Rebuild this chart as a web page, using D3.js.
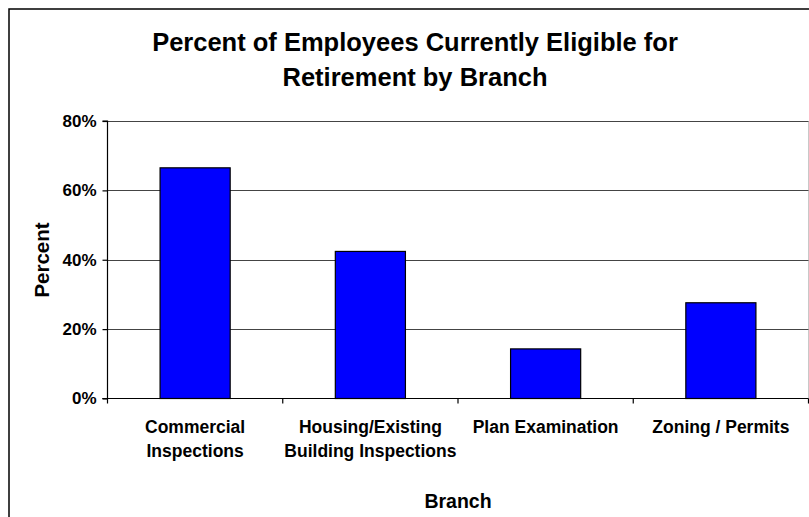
<!DOCTYPE html>
<html>
<head>
<meta charset="utf-8">
<script src="https://cdn.jsdelivr.net/npm/d3@7"></script>
<style>
  html, body { margin: 0; padding: 0; background: #fff; }
  svg { display: block; }
  text { font-family: "Liberation Sans", Arial, sans-serif; font-weight: bold; fill: #000; }
</style>
</head>
<body>
<svg id="chart" width="809" height="517"></svg>
<script>
// Branch categories (each label may wrap onto two lines)
const branches = [
  ["Commercial", "Inspections"],
  ["Housing/Existing", "Building Inspections"],
  ["Plan Examination"],
  ["Zoning / Permits"]
];
// Share of employees currently eligible for retirement, per branch
const eligible = [0.665, 0.424, 0.143, 0.276];
const yTicks = [0, 0.2, 0.4, 0.6, 0.8];
const titleLines = ["Percent of Employees Currently Eligible for", "Retirement by Branch"];

const svg = d3.select("#chart");
const W = 809, H = 517;

// outer chart frame
svg.append("rect")
  .attr("x", 9).attr("y", 9).attr("width", W + 20).attr("height", H + 20)
  .attr("fill", "#fff").attr("stroke", "#000").attr("stroke-width", 1.5);

const plot = { left: 107.5, right: 808.5, top: 121, bottom: 398.5 };

const x = d3.scaleBand()
  .domain(branches.map((d, i) => i))
  .range([plot.left, plot.right])
  .paddingInner(0.6).paddingOuter(0.3);

const xTickScale = d3.scaleLinear().domain([0, branches.length]).range([plot.left, plot.right]);

const y = d3.scaleLinear().domain([0, 0.8]).range([plot.bottom, plot.top]);

// plot area right edge
svg.append("line")
  .attr("x1", plot.right).attr("x2", plot.right)
  .attr("y1", plot.top).attr("y2", plot.bottom)
  .attr("stroke", "#c8c8c8").attr("stroke-width", 1);

// gridlines
svg.append("g")
  .selectAll("line")
  .data(yTicks.filter(v => v > 0))
  .join("line")
  .attr("x1", plot.left).attr("x2", plot.right)
  .attr("y1", d => Math.round(y(d)) + 0.5).attr("y2", d => Math.round(y(d)) + 0.5)
  .attr("stroke", "#444").attr("stroke-width", 1.2);

// bars
svg.append("g")
  .selectAll("rect")
  .data(eligible)
  .join("rect")
  .attr("x", (d, i) => x(i))
  .attr("y", d => y(d))
  .attr("width", x.bandwidth())
  .attr("height", d => y(0) - y(d))
  .attr("fill", "#0000ff")
  .attr("stroke", "#000").attr("stroke-width", 1.2);

// y axis
const yAxis = d3.axisLeft(y)
  .tickValues(yTicks)
  .tickFormat(d3.format(".0%"))
  .tickSize(5)
  .tickPadding(6);
const gy = svg.append("g")
  .attr("transform", `translate(${plot.left},0)`)
  .call(yAxis);
gy.select(".domain").attr("stroke", "#000").attr("stroke-width", 1.2).attr("d", `M-5,${plot.top}H0V${plot.bottom}H-5`);
gy.selectAll(".tick line").attr("stroke", "#000").attr("stroke-width", 1.2);
gy.selectAll(".tick text")
  .style("font-family", "'Liberation Sans', Arial, sans-serif")
  .style("font-weight", "bold")
  .style("font-size", "17px")
  .attr("fill", "#000");

// x axis line and category dividers
const gx = svg.append("g");
gx.append("line")
  .attr("x1", plot.left - 5).attr("x2", plot.right)
  .attr("y1", plot.bottom).attr("y2", plot.bottom)
  .attr("stroke", "#000").attr("stroke-width", 1.2);
gx.selectAll("line.tick")
  .data(d3.range(branches.length + 1))
  .join("line")
  .attr("class", "tick")
  .attr("x1", d => xTickScale(d)).attr("x2", d => xTickScale(d))
  .attr("y1", plot.bottom).attr("y2", plot.bottom + 5)
  .attr("stroke", "#000").attr("stroke-width", 1.2);

// category labels
gx.selectAll("text.cat")
  .data(branches)
  .join("text")
  .attr("class", "cat")
  .attr("text-anchor", "middle")
  .style("font-size", "17.5px")
  .each(function (lines, i) {
    const t = d3.select(this);
    lines.forEach((ln, j) => {
      t.append("tspan")
        .attr("x", x(i) + x.bandwidth() / 2)
        .attr("y", 433 + j * 24)
        .text(ln);
    });
  });

// axis titles
svg.append("text")
  .attr("text-anchor", "middle")
  .attr("transform", "translate(49,260) rotate(-90)")
  .style("font-size", "20.5px")
  .text("Percent");

svg.append("text")
  .attr("x", 458).attr("y", 508)
  .attr("text-anchor", "middle")
  .style("font-size", "19.5px")
  .text("Branch");

// chart title
svg.append("text")
  .attr("text-anchor", "middle")
  .style("font-size", "25.5px")
  .selectAll("tspan")
  .data(titleLines)
  .join("tspan")
  .attr("x", 415)
  .attr("y", (d, i) => 51 + i * 35)
  .text(d => d);
</script>
</body>
</html>
